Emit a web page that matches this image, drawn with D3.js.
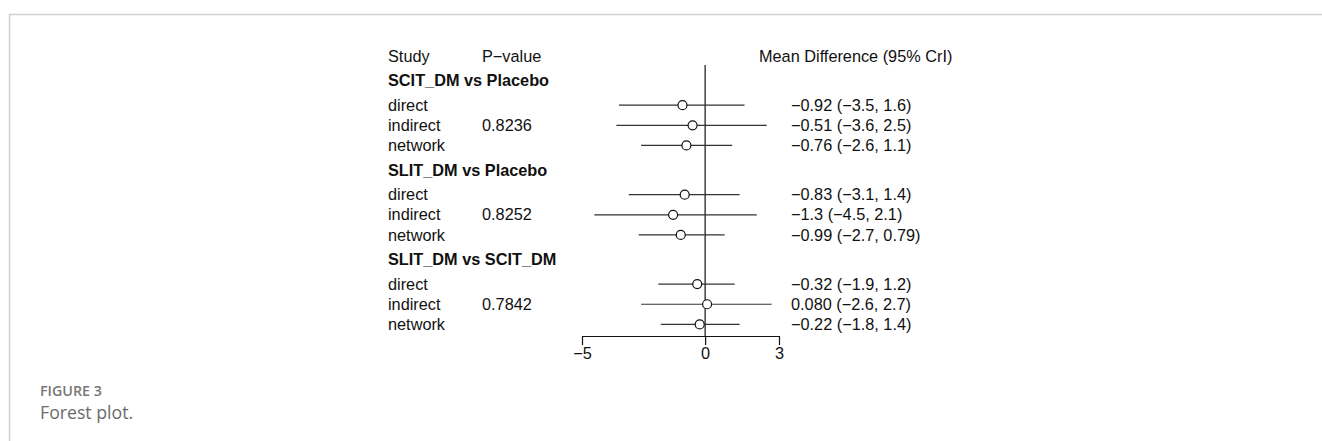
<!DOCTYPE html>
<html>
<head>
<meta charset="utf-8">
<script src="https://cdn.jsdelivr.net/npm/d3@7"></script>
<style>
    body { margin: 0; background: #fff; }
    svg text { font-family: "Liberation Sans", Arial, sans-serif; }
</style>
</head>
<body>
<div id="chart"></div>
<script>
// comparisons, each with three estimate types
const comparisons = ['SCIT_DM vs Placebo', 'SLIT_DM vs Placebo', 'SLIT_DM vs SCIT_DM'];
const studyTypes = ['direct', 'indirect', 'network'];
const pValues = ['0.8236', '0.8252', '0.7842'];
const means = [
    [-0.92, -0.51, -0.76],
    [-0.83, -1.3, -0.99],
    [-0.32, 0.080, -0.22]
];
const lowers = [
    [-3.5, -3.6, -2.6],
    [-3.1, -4.5, -2.7],
    [-1.9, -2.6, -1.8]
];
const uppers = [
    [1.6, 2.5, 1.1],
    [1.4, 2.1, 0.79],
    [1.2, 2.7, 1.4]
];
const axisTicks = [-5, 0, 3];

const width = 1322;
const height = 441;
const fontSize = 16.3;

const svg = d3.select('#chart')
    .append('svg')
    .attr('width', width)
    .attr('height', height);

// page frame
svg.append('path')
    .attr('d', `M9.5,${height} V14.5 H${width}`)
    .attr('fill', 'none')
    .attr('stroke', '#cfcfcf')
    .attr('stroke-width', 1.5);

const fmt = d3.format('.2r');

// layout rows in line units
const rows = [];
let pos = 0;
rows.push({ kind: 'header', u: pos });
comparisons.forEach((c, i) => {
    pos += 1.22;
    rows.push({ kind: 'heading', u: pos, label: c });
    pos += 1.22;
    studyTypes.forEach((s, j) => {
        if (j > 0) pos += 1;
        rows.push({
            kind: 'row', u: pos, label: s,
            p: s === 'indirect' ? pValues[i] : '',
            mean: means[i][j], lo: lowers[i][j], hi: uppers[i][j]
        });
    });
});

const y = d3.scaleLinear().domain([0, 1]).range([56, 76.15]);
const x = d3.scaleLinear().domain([-5, 3]).range([582, 779]);

const colStudy = 388;
const colP = 482;
const colCI = 791;
const axisY = 336;

const text = (tx, ty, str, weight) => svg.append('text')
    .attr('x', tx)
    .attr('y', ty)
    .attr('dy', '0.35em')
    .attr('font-size', fontSize)
    .attr('font-weight', weight || 'normal')
    .attr('fill', '#111')
    .text(str);

// header
text(colStudy, y(0), 'Study');
text(colP, y(0), 'P\u2212value');
text(759, y(0), 'Mean Difference (95% CrI)');

// zero line
svg.append('line')
    .attr('x1', x(0)).attr('x2', x(0))
    .attr('y1', 65).attr('y2', axisY)
    .attr('stroke', '#111')
    .attr('stroke-width', 1.2);

rows.filter(r => r.kind === 'heading').forEach(r => {
    text(colStudy, y(r.u), r.label, 'bold');
});

const dataRows = rows.filter(r => r.kind === 'row');

dataRows.forEach(r => {
    text(colStudy, y(r.u), r.label);
    if (r.p) text(colP, y(r.u), r.p);
    text(colCI, y(r.u), `${fmt(r.mean)} (${fmt(r.lo)}, ${fmt(r.hi)})`);
});

svg.selectAll('.ci')
    .data(dataRows)
    .enter()
    .append('line')
    .attr('class', 'ci')
    .attr('x1', d => x(d.lo))
    .attr('x2', d => x(d.hi))
    .attr('y1', d => y(d.u))
    .attr('y2', d => y(d.u))
    .attr('stroke', '#333')
    .attr('stroke-width', 1.2);

svg.selectAll('.pt')
    .data(dataRows)
    .enter()
    .append('circle')
    .attr('class', 'pt')
    .attr('cx', d => x(d.mean))
    .attr('cy', d => y(d.u))
    .attr('r', 4.5)
    .attr('fill', '#fff')
    .attr('stroke', '#111')
    .attr('stroke-width', 1.2);

// x axis
const axis = svg.append('g')
    .attr('transform', `translate(0,${axisY})`)
    .call(d3.axisBottom(x)
        .tickValues(axisTicks)
        .tickSize(9)
        .tickSizeOuter(0)
        .tickPadding(2)
        .tickFormat(d3.format('')));
axis.selectAll('text')
    .attr('font-size', fontSize)
    .attr('fill', '#111')
    .style('font-family', '"Liberation Sans", Arial, sans-serif');
axis.selectAll('line, path').attr('stroke', '#111').attr('stroke-width', 1.2);

// caption
svg.append('text')
    .attr('x', 40)
    .attr('y', 391)
    .attr('dy', '0.35em')
    .attr('font-size', 14.3)
    .attr('font-weight', 600)
    .attr('fill', '#777')
    .style('font-family', '"Open Sans", sans-serif')
    .text('FIGURE 3');
svg.append('text')
    .attr('x', 40)
    .attr('y', 413)
    .attr('dy', '0.35em')
    .attr('font-size', 17.7)
    .attr('fill', '#6b6b6b')
    .style('font-family', '"Open Sans", sans-serif')
    .text('Forest plot.');
</script>
</body>
</html>
